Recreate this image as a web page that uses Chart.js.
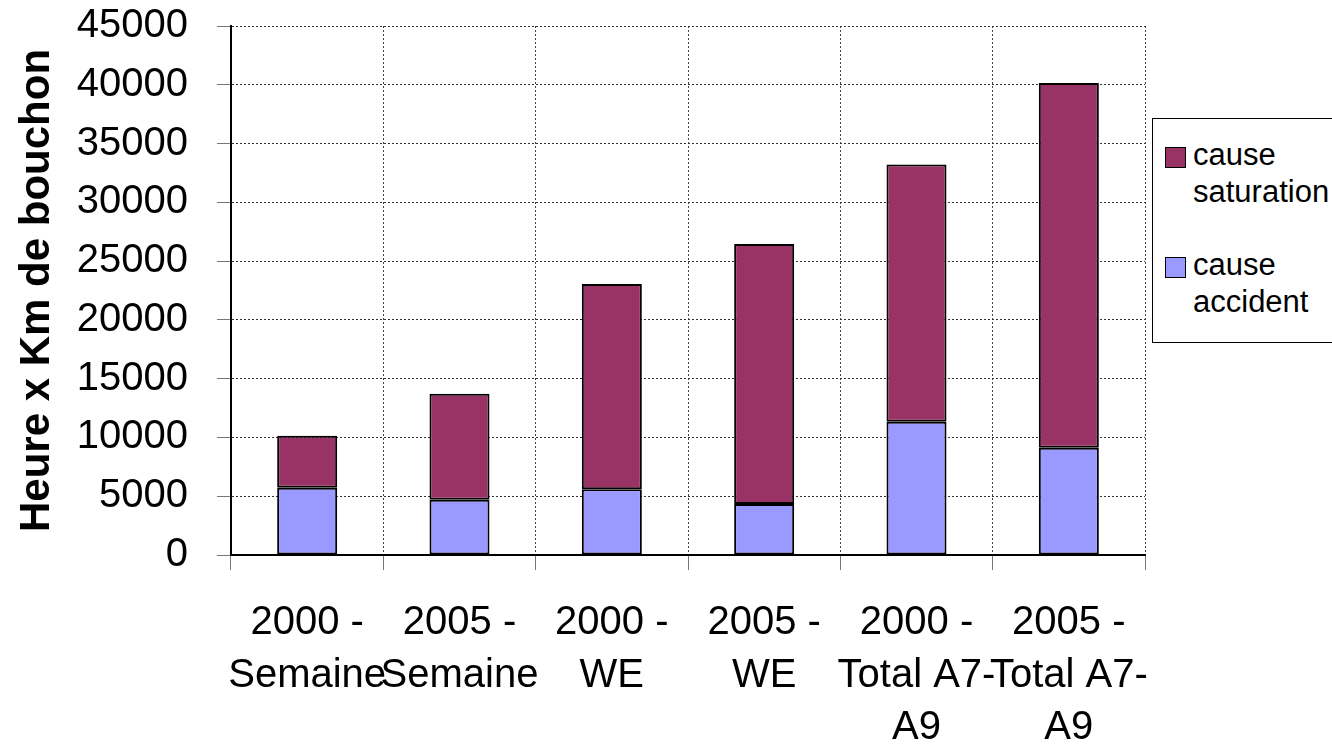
<!DOCTYPE html>
<html>
<head>
<meta charset="utf-8">
<script src="https://cdn.jsdelivr.net/npm/chart.js@4/dist/chart.umd.min.js"></script>
<style>
  body { margin: 0; background: #fff; overflow: hidden; }
  #wrap { position: relative; width: 1332px; height: 745px; }
  #legend {
    position: absolute; left: 1152px; top: 118px; width: 200px; height: 223px;
    border: 1px solid #000; background: #fff;
    font-family: "Liberation Sans", Arial, sans-serif; font-size: 31px; line-height: 36.7px;
  }
  .item { position: absolute; left: 0; }
  .box { position: absolute; left: 12px; width: 19px; height: 19px; border: 1px solid #000; }
  .txt { position: absolute; left: 40px; white-space: nowrap; color: #000; }
</style>
</head>
<body>
<div id="wrap">
  <canvas id="chart" width="1332" height="745"></canvas>
  <div id="legend"></div>
</div>
<script>
const categories = [
  ["2000 -", "Semaine"],
  ["2005 -", "Semaine"],
  ["2000 -", "WE"],
  ["2005 -", "WE"],
  ["2000 -", "Total A7-", "A9"],
  ["2005 -", "Total A7-", "A9"],
];
const accident = [5720, 4700, 5590, 4340, 11330, 9120];
const saturation = [4430, 9020, 17460, 22110, 21890, 31040];
const seriesNames = ["cause accident", "cause saturation"];
const seriesColors = ["#9999FF", "#993366"];

const font = "'Liberation Sans', Arial, sans-serif";

const data = {
  labels: categories,
  datasets: [
    {
      label: seriesNames[0],
      data: accident,
      backgroundColor: seriesColors[0],
      borderColor: "#000",
      borderWidth: 2,
      borderSkipped: false,
    },
    {
      label: seriesNames[1],
      data: saturation,
      backgroundColor: seriesColors[1],
      borderColor: "#000",
      borderWidth: 2,
      borderSkipped: false,
    },
  ],
};

const config = {
  type: "bar",
  data: data,
  options: {
    responsive: false,
    animation: false,
    layout: { padding: { left: 0, top: 26, right: 187, bottom: 0 } },
    datasets: { bar: { categoryPercentage: 1, barPercentage: 0.394 } },
    plugins: { legend: { display: false }, tooltip: { enabled: false } },
    scales: {
      x: {
        stacked: true,
        afterFit: (scale) => {
          scale.height = 190;
          scale.paddingLeft = 0;
          scale.paddingRight = 0;
        },
        grid: { offset: true, color: "#444", tickColor: "#777", tickLength: 15, lineWidth: 1 },
        border: { color: "#000", width: 2, dash: [2, 2] },
        ticks: {
          autoSkip: false, maxRotation: 0, minRotation: 0, padding: 27, color: "#000",
          font: { family: font, size: 40, lineHeight: 1.31 },
        },
      },
      y: {
        stacked: true,
        min: 0,
        max: 45000,
        afterFit: (scale) => {
          scale.width = 231;
          scale.paddingTop = 0;
          scale.paddingBottom = 0;
        },
        grid: { color: "#333", tickColor: "#777", tickLength: 14, lineWidth: 1 },
        border: { color: "#000", width: 2, dash: [2, 2] },
        ticks: {
          stepSize: 5000, padding: 29, color: "#000",
          font: { family: font, size: 40 },
          callback: (v) => String(v),
        },
        title: {
          display: true,
          text: "Heure x Km de bouchon",
          color: "#000",
          padding: { top: 12, bottom: 0 },
          font: { family: font, size: 42, weight: "bold", lineHeight: 1.2 },
        },
      },
    },
  },
};

const ctx = document.getElementById("chart").getContext("2d");
const chart = new Chart(ctx, config);

// legend: saturation listed first, as in the original
const legend = document.getElementById("legend");
const legendOrder = [1, 0];
legendOrder.forEach((di, k) => {
  const ds = chart.data.datasets[di];
  const item = document.createElement("div");
  item.className = "item";
  item.style.top = (k * 110) + "px";
  const box = document.createElement("div");
  box.className = "box";
  box.style.top = "28px";
  box.style.background = ds.backgroundColor;
  const txt = document.createElement("div");
  txt.className = "txt";
  txt.style.top = "18px";
  txt.innerHTML = ds.label.split(" ").join("<br>");
  item.appendChild(box);
  item.appendChild(txt);
  legend.appendChild(item);
});
</script>
</body>
</html>
